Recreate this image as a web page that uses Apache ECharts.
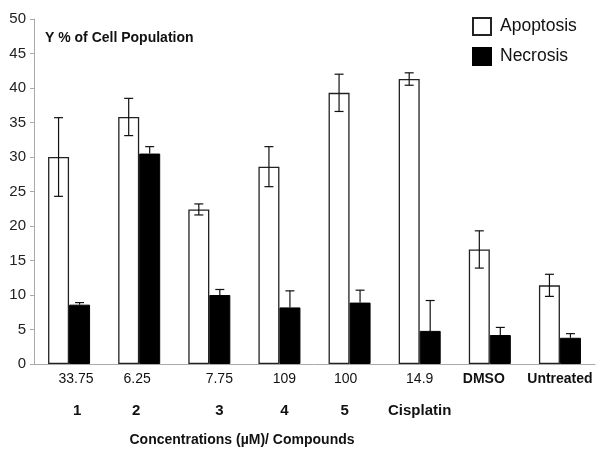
<!DOCTYPE html>
<html>
<head>
<meta charset="utf-8">
<script src="https://cdn.jsdelivr.net/npm/echarts@6/dist/echarts.min.js"></script>
<style>html,body{margin:0;padding:0;background:#fff;}#c{width:602px;height:458px;}</style>
</head>
<body>
<div id="c"></div>
<script>
const categories = ['33.75', '6.25', '7.75', '109', '100', '14.9', 'DMSO', 'Untreated'];
const compounds = ['1', '2', '3', '4', '5', 'Cisplatin', '', ''];
const apoptosis = [30.0, 35.8, 22.4, 28.6, 39.3, 41.3, 16.6, 11.4];
const apoptosisErr = [5.7, 2.7, 0.8, 2.9, 2.7, 0.9, 2.7, 1.6];
const necrosis = [8.6, 30.5, 10.0, 8.2, 8.9, 4.8, 4.2, 3.8];
const necrosisErr = [0.3, 1.0, 0.8, 2.4, 1.8, 4.4, 1.1, 0.6];
const yTicks = [0, 5, 10, 15, 20, 25, 30, 35, 40, 45, 50];

// label horizontal nudges (style only), px
const row1Shift = [7, -2, 10, 5, -4, 0, -6, 0];
const row2Shift = [8, -3, 10, 5, -5, 0, 0, 0];

const FONT = 'Liberation Sans';
const BAR_W = 21;
const CAP = 9;

function shiftRich(shifts, base) {
  const rich = {};
  shifts.forEach((s, i) => {
    rich['s' + i] = Object.assign({}, base, { padding: s >= 0 ? [0, 0, 0, 2 * s] : [0, -2 * s, 0, 0] });
    rich['b' + i] = Object.assign({}, base, { fontWeight: 'bold', padding: s >= 0 ? [0, 0, 0, 2 * s] : [0, -2 * s, 0, 0] });
  });
  return rich;
}

function errRender(side, both) {
  return function (params, api) {
    const i = api.value(0), v = api.value(1), e = api.value(2);
    const top = api.coord([i, v + e]);
    const bot = api.coord([i, both ? v - e : v]);
    const x = top[0] + side * BAR_W / 2;
    const style = { stroke: '#111', lineWidth: 1.2 };
    const children = [
      { type: 'line', shape: { x1: x, y1: top[1], x2: x, y2: bot[1] }, style },
      { type: 'line', shape: { x1: x - CAP / 2, y1: top[1], x2: x + CAP / 2, y2: top[1] }, style }
    ];
    if (both) children.push({ type: 'line', shape: { x1: x - CAP / 2, y1: bot[1], x2: x + CAP / 2, y2: bot[1] }, style });
    return { type: 'group', children };
  };
}

const chart = echarts.init(document.getElementById('c'));
chart.setOption({
  animation: false,
  textStyle: { fontFamily: FONT },
  grid: { left: 34, right: 7, top: 19, bottom: 94, containLabel: false },
  legend: {
    data: ['Apoptosis', 'Necrosis'],
    orient: 'vertical',
    left: 472, top: 17, padding: 0,
    icon: 'rect',
    itemWidth: 18, itemHeight: 17, itemGap: 11,
    textStyle: { fontSize: 17.5, color: '#111', fontFamily: FONT, padding: [0, 0, 0, 4] }
  },
  xAxis: [{
    type: 'category',
    data: categories,
    axisLine: { lineStyle: { color: '#aaa' } },
    axisTick: { lineStyle: { color: '#aaa' }, length: 4 },
    axisLabel: {
      fontSize: 14, color: '#111', margin: 8, interval: 0,
      formatter: (v, i) => ((v === 'DMSO' || v === 'Untreated') ? '{b' : '{s') + i + '|' + v + '}',
      rich: shiftRich(row1Shift, { fontSize: 14, color: '#111', fontFamily: FONT })
    }
  }, {
    type: 'category',
    data: compounds,
    position: 'bottom',
    offset: 31,
    axisLine: { show: false },
    axisTick: { show: false },
    axisLabel: {
      fontSize: 15, fontWeight: 'bold', color: '#111', margin: 8, interval: 0,
      formatter: (v, i) => v ? '{b' + i + '|' + v + '}' : '',
      rich: shiftRich(row2Shift, { fontSize: 15, color: '#111', fontFamily: FONT })
    }
  }],
  yAxis: {
    type: 'value', min: yTicks[0], max: yTicks[yTicks.length - 1], interval: 5,
    splitLine: { show: false },
    axisLine: { show: true, lineStyle: { color: '#aaa' } },
    axisTick: { show: true, lineStyle: { color: '#aaa' }, length: 4 },
    axisLabel: { fontSize: 15, color: '#222', margin: 8 }
  },
  graphic: [
    { type: 'text', left: 45, top: 31, style: { text: 'Y % of Cell Population', font: 'bold 14px "Liberation Sans"', fill: '#111' } },
    { type: 'text', x: 242, y: 440, style: { text: 'Concentrations (µM)/ Compounds', font: 'bold 14px "Liberation Sans"', fill: '#111', textAlign: 'center', textVerticalAlign: 'middle' } }
  ],
  series: [
    { name: 'Apoptosis', type: 'bar', data: apoptosis, barWidth: BAR_W, barGap: '0%',
      itemStyle: { color: '#fff', borderColor: '#222', borderWidth: 1.3 } },
    { name: 'Necrosis', type: 'bar', data: necrosis, barWidth: BAR_W, barGap: '0%',
      itemStyle: { color: '#000', borderColor: '#000', borderWidth: 1 } },
    { name: 'ApoErr', type: 'custom', renderItem: errRender(-1, true), encode: { x: 0, y: 1 }, z: 5,
      data: apoptosis.map((v, i) => [i, v, apoptosisErr[i]]) },
    { name: 'NecErr', type: 'custom', renderItem: errRender(1, false), encode: { x: 0, y: 1 }, z: 5,
      data: necrosis.map((v, i) => [i, v, necrosisErr[i]]) }
  ]
});
</script>
</body>
</html>
